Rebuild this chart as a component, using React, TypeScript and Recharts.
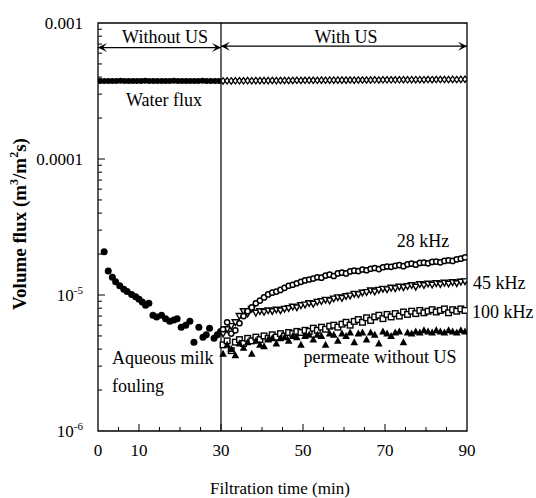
import React from 'react';
import { Customized, ReferenceArea, ReferenceLine, Scatter, ScatterChart, XAxis, YAxis } from 'recharts';

// flux values are in units of 1e-6 m3/(m2 s)
const timeBeforeUS = [
  0.5, 1.5, 2.5, 3.5, 4.5, 5.5, 6.5, 7.5, 8.5, 9.5, 10.5, 11.5, 12.5, 13.5, 14.5,
  15.5, 16.5, 17.5, 18.5, 19.5, 20.5, 21.5, 22.5, 23.5, 24.5, 25.5, 26.5, 27.5, 28.5, 29.5,
];
const timeWithUS = [
  30.5, 31.5, 32.5, 33.5, 34.5, 35.5, 36.5, 37.5, 38.5, 39.5, 40.5, 41.5, 42.5, 43.5, 44.5,
  45.5, 46.5, 47.5, 48.5, 49.5, 50.5, 51.5, 52.5, 53.5, 54.5, 55.5, 56.5, 57.5, 58.5, 59.5,
  60.5, 61.5, 62.5, 63.5, 64.5, 65.5, 66.5, 67.5, 68.5, 69.5, 70.5, 71.5, 72.5, 73.5, 74.5,
  75.5, 76.5, 77.5, 78.5, 79.5, 80.5, 81.5, 82.5, 83.5, 84.5, 85.5, 86.5, 87.5, 88.5, 89.5,
];

const waterBeforeUS = [
  375, 375, 374, 375, 375, 376, 375, 374, 375, 375, 375, 376, 375, 375, 374,
  375, 375, 375, 376, 375, 375, 374, 375, 375, 375, 376, 375, 375, 375, 375,
];
const waterWithUS = [
  375, 376, 375, 376, 376, 376, 377, 376, 377, 377, 377, 377, 378, 377, 378,
  378, 378, 378, 379, 378, 379, 379, 379, 379, 380, 379, 380, 380, 380, 380,
  380, 381, 380, 381, 381, 381, 381, 382, 381, 382, 382, 382, 382, 382, 383,
  382, 383, 383, 383, 383, 384, 383, 384, 384, 384, 384, 385, 384, 385, 386,
];

const milkTime = [
  1.5, 2.5, 3.5, 4.3, 5.3, 6.3, 7.1, 8.2, 9.2, 10.0, 10.8, 11.6, 12.4, 13.4, 14.3, 15.5,
  16.5, 17.5, 18.5, 19.3, 20.3, 21.4, 22.4, 23.4, 24.6, 25.6, 26.4, 27.2, 28.3, 29.1, 29.9,
];
const milkFouling = [
  20.8, 15.0, 13.5, 12.5, 11.7, 11.0, 10.6, 10.1, 9.7, 9.3, 8.9, 8.4, 8.7, 7.1, 6.9, 7.1,
  6.7, 6.4, 6.55, 6.7, 5.8, 6.0, 6.4, 4.5, 5.8, 4.9, 5.1, 5.7, 4.8, 5.1, 5.4,
];

const flux28kHz = [
  5.6, 6.3, 5.2, 5.5, 6.2, 7.0, 7.6, 8.1, 8.7, 9.1, 9.6, 10.1, 10.4, 10.6, 10.9,
  11.3, 11.7, 11.9, 12.2, 12.5, 12.8, 13.0, 13.2, 13.5, 13.4, 13.9, 14.1, 13.8, 14.4, 14.6,
  14.4, 14.9, 15.1, 15.0, 15.4, 15.2, 15.6, 15.8, 15.5, 16.0, 16.2, 16.1, 16.4, 16.6, 16.3,
  16.8, 17.0, 16.7, 17.2, 17.3, 17.1, 17.5, 17.6, 17.4, 17.8, 18.0, 17.8, 18.3, 18.5, 18.9,
];
const flux45kHz = [
  5.2, 5.6, 5.9, 6.3, 7.0, 7.6, 7.3, 7.9, 7.4, 7.6, 7.5, 7.7, 7.6, 7.8, 7.7,
  7.9, 8.0, 8.2, 8.1, 8.4, 8.5, 8.7, 8.6, 8.9, 9.0, 9.2, 9.1, 9.4, 9.6, 9.5,
  9.8, 9.9, 10.2, 10.1, 10.4, 10.5, 10.8, 10.6, 10.9, 11.1, 11.0, 11.3, 11.2, 11.5, 11.4,
  11.6, 11.8, 11.5, 12.0, 11.8, 12.1, 11.9, 12.2, 12.0, 12.3, 12.1, 12.4, 12.2, 12.5, 12.6,
];
const flux100kHz = [
  4.3, 4.6, 3.9, 4.5, 4.7, 4.4, 4.8, 4.6, 4.9, 4.7, 5.0, 4.8, 5.1, 4.9, 5.2,
  5.0, 5.3, 5.2, 5.4, 5.3, 5.5, 5.4, 5.7, 5.5, 5.8, 5.6, 5.9, 6.0, 5.8, 6.1,
  6.3, 6.0, 6.4, 6.6, 6.3, 6.8, 6.5, 6.9, 7.1, 6.7, 7.2, 6.9, 7.3, 7.0, 7.5,
  7.2, 7.6, 7.3, 7.7, 7.4, 7.6, 7.8, 7.5, 7.7, 7.9, 7.4, 7.8, 7.6, 7.9, 7.7,
];
const fluxNoUS = [
  3.7, 4.3, 4.0, 3.6, 4.4, 4.1, 4.5, 3.7, 4.6, 4.3, 4.2, 4.7, 4.8, 4.4, 4.8,
  4.9, 4.6, 5.0, 4.9, 4.3, 5.0, 5.1, 4.7, 5.1, 5.0, 4.3, 5.2, 5.1, 4.6, 5.2,
  5.0, 5.3, 4.5, 5.2, 5.3, 4.7, 5.3, 5.1, 4.4, 5.4, 5.2, 5.0, 5.3, 5.4, 4.5,
  5.3, 5.2, 5.4, 5.3, 5.5, 5.4, 5.3, 5.5, 5.4, 5.3, 5.5, 5.4, 5.3, 5.5, 5.4,
];

const xTicks = [0, 5, 10, 15, 20, 25, 30, 35, 40, 45, 50, 55, 60, 65, 70, 75, 80, 85, 90];
const xLabels = [0, 10, 30, 50, 70, 90];
const yTicks = [
  1, 2, 3, 4, 5, 6, 7, 8, 9, 10, 20, 30, 40, 50, 60, 70, 80, 90,
  100, 200, 300, 400, 500, 600, 700, 800, 900, 1000,
];

const toPoints = (times: number[], values: number[]) => times.map((t, i) => ({ t, v: values[i] }));

const FONT = '"Liberation Serif", "Times New Roman", serif';

const FilledCircle = (r: number) => (p: any) => <circle cx={p.cx} cy={p.cy} r={r} fill="#000" />;
const OpenCircle = (p: any) => (
  <circle cx={p.cx} cy={p.cy} r={2.6} fill="#fff" stroke="#000" strokeWidth={1.5} />
);
const OpenDiamond = (p: any) => (
  <path
    d={`M${p.cx},${p.cy - 3.2}L${p.cx + 2.4},${p.cy}L${p.cx},${p.cy + 3.2}L${p.cx - 2.4},${p.cy}Z`}
    fill="#fff"
    stroke="#000"
    strokeWidth={1.3}
  />
);
const OpenDownTriangle = (p: any) => (
  <path
    d={`M${p.cx - 3.2},${p.cy - 2.5}L${p.cx + 3.2},${p.cy - 2.5}L${p.cx},${p.cy + 3.2}Z`}
    fill="#fff"
    stroke="#000"
    strokeWidth={1.4}
  />
);
const OpenSquare = (p: any) => (
  <rect x={p.cx - 2.8} y={p.cy - 2.8} width={5.6} height={5.6} fill="#fff" stroke="#000" strokeWidth={1.4} />
);
const FilledTriangle = (p: any) => (
  <path d={`M${p.cx},${p.cy - 4}L${p.cx + 3.8},${p.cy + 3}L${p.cx - 3.8},${p.cy + 3}Z`} fill="#000" />
);

const XTick = (props: any) => {
  const { x, y, payload } = props;
  const major = xLabels.includes(payload.value);
  return (
    <g>
      {payload.value > 0 && payload.value < 90 && (
        <line x1={x} y1={y} x2={x} y2={y - (major ? 7 : 4)} stroke="#000" strokeWidth={1} />
      )}
      {major && (
        <text x={x} y={y + 25} textAnchor="middle" fontFamily={FONT} fontSize={17} fill="#000">
          {payload.value}
        </text>
      )}
    </g>
  );
};

const YTick = (props: any) => {
  const { x, y, payload } = props;
  const v = payload.value;
  const decade = [1, 10, 100, 1000].includes(v);
  let label: React.ReactNode = null;
  if (v === 1000) label = '0.001';
  if (v === 100) label = '0.0001';
  if (v === 10 || v === 1) {
    label = (
      <>
        <tspan>10</tspan>
        <tspan dy={-7} fontSize={11}>{v === 10 ? '-5' : '-6'}</tspan>
      </>
    );
  }
  return (
    <g>
      {v > 1 && v < 1000 && (
        <line x1={x} y1={y} x2={x + (decade ? 7 : 4)} y2={y} stroke="#000" strokeWidth={1} />
      )}
      {label && (
        <text x={x - 15} y={y} dy={6} textAnchor="end" fontFamily={FONT} fontSize={17} fill="#000">
          {label}
        </text>
      )}
    </g>
  );
};

const DoubleArrow = (props: any) => {
  const { x1, y1, x2, y2 } = props;
  const h = 9;
  const w = 4.5;
  return (
    <g>
      <line x1={x1} y1={y1} x2={x2} y2={y2} stroke="#000" strokeWidth={1.2} />
      <path d={`M${x1},${y1}L${x1 + h},${y1 - w}L${x1 + h * 0.55},${y1}L${x1 + h},${y1 + w}Z`} fill="#000" />
      <path d={`M${x2},${y2}L${x2 - h},${y2 - w}L${x2 - h * 0.55},${y2}L${x2 - h},${y2 + w}Z`} fill="#000" />
    </g>
  );
};

const Annotations = () => (
  <g fontFamily={FONT} fontSize={18} fill="#000">
    <text x={165} y={43} textAnchor="middle">Without US</text>
    <text x={346} y={43} textAnchor="middle">With US</text>
    <text x={164} y={106} textAnchor="middle">Water flux</text>
    <text x={423} y={247} textAnchor="middle">28 kHz</text>
    <text x={473} y={289}>45 kHz</text>
    <text x={472} y={318}>100 kHz</text>
    <text x={112} y={364}>Aqueous milk</text>
    <text x={112} y={392}>fouling</text>
    <text x={380} y={363} textAnchor="middle">permeate without US</text>
    <text x={280} y={494} textAnchor="middle" fontSize={17}>Filtration time (min)</text>
    <text
      x={26}
      y={224}
      textAnchor="middle"
      fontWeight="bold"
      fontSize={19}
      transform="rotate(-90, 26, 224)"
    >
      Volume flux (m<tspan dy={-8} fontSize={12}>3</tspan>
      <tspan dy={8}>/m</tspan>
      <tspan dy={-8} fontSize={12}>2</tspan>
      <tspan dy={8}>s)</tspan>
    </text>
  </g>
);

const App = () => {
  return (
    <div style={{ position: 'absolute', left: 0, top: 0, background: '#fff' }}>
      <ScatterChart width={536} height={498} margin={{ top: 23, right: 69, bottom: 0, left: 0 }}>
        <XAxis
          type="number"
          dataKey="t"
          domain={[0, 90]}
          ticks={xTicks}
          interval={0}
          height={67}
          axisLine={false}
          tickLine={false}
          tickSize={0}
          tickMargin={0}
          tick={<XTick />}
          allowDataOverflow
        />
        <YAxis
          type="number"
          dataKey="v"
          scale="log"
          domain={[1, 1000]}
          ticks={yTicks}
          interval={0}
          width={98}
          axisLine={false}
          tickLine={false}
          tickSize={0}
          tickMargin={0}
          tick={<YTick />}
          allowDataOverflow
        />
        <ReferenceArea x1={0} x2={90} y1={1} y2={1000} fill="none" stroke="#000" strokeWidth={1.3} />
        <ReferenceLine x={30} stroke="#000" strokeWidth={1.2} />
        <ReferenceLine segment={[{ x: 0, y: 660 }, { x: 30, y: 660 }]} shape={DoubleArrow} />
        <ReferenceLine segment={[{ x: 30, y: 675 }, { x: 90, y: 675 }]} shape={DoubleArrow} />
        <Scatter data={toPoints(timeBeforeUS, waterBeforeUS)} shape={FilledCircle(3)} isAnimationActive={false} />
        <Scatter data={toPoints(timeWithUS, waterWithUS)} shape={OpenDiamond} isAnimationActive={false} />
        <Scatter data={toPoints(milkTime, milkFouling)} shape={FilledCircle(3.5)} isAnimationActive={false} />
        <Scatter data={toPoints(timeWithUS, flux100kHz)} shape={OpenSquare} isAnimationActive={false} />
        <Scatter data={toPoints(timeWithUS, fluxNoUS)} shape={FilledTriangle} isAnimationActive={false} />
        <Scatter data={toPoints(timeWithUS, flux45kHz)} shape={OpenDownTriangle} isAnimationActive={false} />
        <Scatter data={toPoints(timeWithUS, flux28kHz)} shape={OpenCircle} isAnimationActive={false} />
        <Customized component={Annotations} />
      </ScatterChart>
    </div>
  );
};

export default App;
